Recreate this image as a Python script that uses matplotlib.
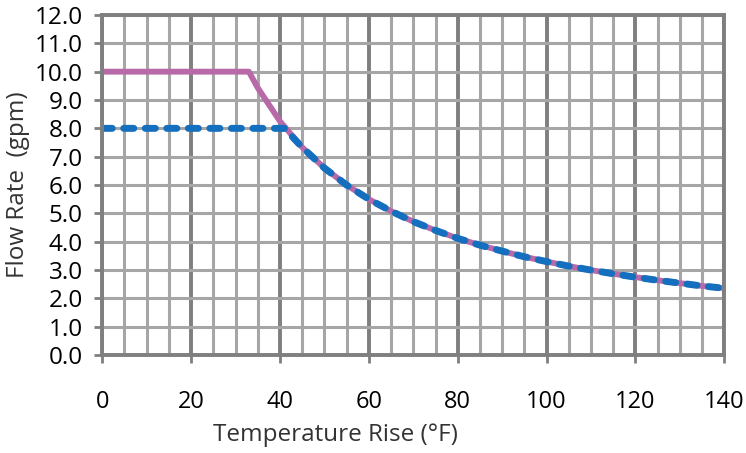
import matplotlib
matplotlib.use("Agg")
import matplotlib.pyplot as plt
from matplotlib.ticker import MultipleLocator, FormatStrFormatter

# temperature rise (F) and flow rate (gpm)
temp_hi = [0, 33, 35, 40, 45, 50, 55, 60, 65, 70, 75, 80, 85, 90, 95, 100,
           105, 110, 115, 120, 125, 130, 135, 140]
flow_hi = [10.0, 10.0, 9.43, 8.25, 7.33, 6.6, 6.0, 5.5, 5.08, 4.71, 4.4, 4.12,
           3.88, 3.67, 3.47, 3.3, 3.14, 3.0, 2.87, 2.75, 2.64, 2.54, 2.44, 2.36]

temp_lo = [0, 41, 45, 50, 55, 60, 65, 70, 75, 80, 85, 90, 95, 100,
           105, 110, 115, 120, 125, 130, 135, 140]
flow_lo = [8.0, 8.0, 7.33, 6.6, 6.0, 5.5, 5.08, 4.71, 4.4, 4.12,
           3.88, 3.67, 3.47, 3.3, 3.14, 3.0, 2.87, 2.75, 2.64, 2.54, 2.44, 2.36]

plt.rcParams['font.family'] = ['Open Sans', 'DejaVu Sans']

fig = plt.figure(figsize=(7.46, 4.53), dpi=100)
ax = fig.add_axes([0.137, 0.216, 0.834, 0.751])

ax.set_xlim(0, 140)
ax.set_ylim(0, 12)
ax.xaxis.set_major_locator(MultipleLocator(20))
ax.xaxis.set_minor_locator(MultipleLocator(5))
ax.yaxis.set_major_locator(MultipleLocator(1))

# grid
ax.grid(which='minor', axis='x', color='#a6a6a6', lw=2.2)
ax.grid(which='major', axis='x', color='#7f7f7f', lw=2.8)
ax.grid(which='major', axis='y', color='#a6a6a6', lw=2.2)
ax.set_axisbelow(True)

ax.plot(temp_hi, flow_hi, color='#b86aa8', lw=4.2, solid_capstyle='butt',
        solid_joinstyle='round')
ax.plot(temp_lo, flow_lo, color='#1470be', lw=5.0, ls=(0, (1.45, 1.65)),
        dash_capstyle='round')

for s in ax.spines.values():
    s.set_color('#7f7f7f')
    s.set_linewidth(2.8)

ax.tick_params(axis='x', which='major', direction='out', length=6, width=2,
               color='#7f7f7f', pad=19, labelsize=17)
ax.tick_params(axis='x', which='minor', length=0)
ax.tick_params(axis='y', direction='out', length=6, width=2,
               color='#7f7f7f', pad=8, labelsize=17.5)
ax.yaxis.set_major_formatter(FormatStrFormatter('%.1f'))

ax.set_xlabel('Temperature Rise (°F)', fontsize=17.5, color='#333333')
ax.set_ylabel('Flow Rate  (gpm)', fontsize=17.5, color='#333333')
ax.xaxis.set_label_coords(0.375, -0.2)
ax.yaxis.set_label_coords(-0.116, 0.5)

fig.savefig('out.png', dpi=100)
